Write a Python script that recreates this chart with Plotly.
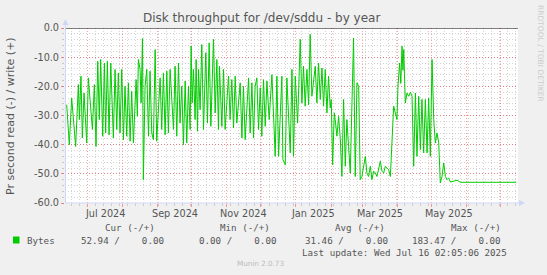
import plotly.graph_objects as go
import pandas as pd

# ---------------- data ----------------
START = "2024-06-11 02:05:06"
END = "2025-07-16 02:05:06"

# days since START, and read throughput plotted as negative (read (-))
day_offset = [
    1.5, 3.8, 5.9, 9.4, 11.8, 12.7, 14.1, 15.3, 16.8, 19.2, 20.6, 22.1, 24.2, 25.9, 27.4,
    28.9, 30.3, 31.5, 33.3, 34.8, 35.9, 37.4, 38.9, 40.4, 42.7, 44.2, 45.7, 47.1, 48.6,
    50.1, 51.6, 53.0, 54.5, 56.0, 57.5, 58.9, 60.4, 62.8, 63.9, 64.8, 66.3, 67.2, 68.4,
    69.2, 70.7, 72.2, 73.7, 75.1, 76.6, 78.1, 79.6, 81.0, 84.0, 85.4, 86.9, 88.4, 89.9,
    91.3, 92.8, 95.8, 97.2, 98.7, 100.2, 101.6, 103.1, 104.6, 106.1, 107.5, 109.0, 110.5,
    111.4, 112.3, 113.4, 114.9, 115.8, 117.0, 117.9, 119.3, 120.8, 122.3, 124.3, 125.8,
    127.3, 128.8, 131.1, 132.6, 134.1, 135.5, 136.4, 138.5, 140.0, 141.4, 144.4, 145.8,
    147.3, 148.8, 150.3, 151.7, 154.7, 156.2, 157.6, 159.1, 162.1, 163.5, 165.0, 166.5,
    167.9, 169.4, 170.9, 172.4, 173.8, 175.3, 176.8, 178.3, 180.3, 182.7, 185.6, 187.1,
    188.6, 191.5, 192.4, 194.5, 195.9, 198.9, 200.4, 201.8, 203.3, 205.4,
    207.7, 209.2, 210.6, 212.1, 213.6, 215.1, 216.5, 218.0, 221.0, 222.4, 223.9, 225.4,
    226.9, 228.3, 229.8, 231.3, 232.7, 234.2, 235.1, 236.3, 237.8, 238.6, 240.1, 241.6,
    243.1, 244.5, 246.0, 247.5, 248.9, 250.4, 251.9, 253.4, 254.8, 256.3, 257.8, 259.3,
    260.7, 262.2, 263.7, 265.2, 266.6, 268.1, 269.6, 271.0, 272.5, 274.0, 275.5, 276.9,
    278.4, 279.9, 281.4, 282.8, 284.3, 285.8, 287.3, 288.7, 290.2, 291.7, 293.1, 294.0,
    295.5, 296.5, 297.6, 298.4, 299.1, 300.5, 302.0, 303.5, 305.0, 306.4, 307.9, 309.4, 310.8, 312.3,
    313.8, 315.2, 316.7, 318.2, 319.7, 321.1, 322.6, 324.1, 325.6, 327.0, 328.5, 330.0,
    331.4, 332.9, 334.4, 335.9, 337.3, 338.8, 340.3, 346.2, 349.1, 398.3,
]
read_value = [
    -26.3, -40.0, -24.0, -40.6, -19.4, -31.4, -16.5, -37.7, -22.3, -39.4, -17.1, -25.7, -34.8, -19.4, -40.6,
    -11.4, -31.4, -10.8, -37.1, -12.0, -36.0, -11.4, -36.6, -12.0, -37.7, -14.2, -34.8, -15.4, -36.0,
    -14.2, -38.3, -20.0, -37.1, -18.8, -38.8, -21.7, -39.4, -17.7, -30.3, -10.8, -14.2, -25.7, -3.6,
    -52.0, -20.0, -14.2, -37.1, -14.8, -36.0, -38.3, -7.4, -38.8, -17.1, -34.8, -15.4, -36.6, -14.8,
    -36.0, -14.2, -34.8, -13.1, -37.1, -12.0, -32.6, -20.0, -40.0, -18.2, -39.4, -20.0, -34.8,
    -6.2, -25.7, -14.2, -31.4, -10.8, -35.4, -14.2, -28.0, -5.7, -34.8, -8.5, -32.6,
    -5.1, -33.7, -3.9, -29.1, -10.8, -34.8, -13.1, -33.7, -14.2, -34.8, -16.5, -31.4,
    -17.7, -34.3, -16.5, -32.6, -18.8, -37.7, -20.0, -38.3, -17.1, -36.0, -18.8, -37.7,
    -20.0, -17.1, -34.8, -20.5, -37.1, -17.7, -33.7, -18.2, -31.4, -16.0, -44.0, -16.5,
    -44.0, -16.5, -45.1, -46.9, -17.1, -42.8, -14.2, -44.0, -16.5, -32.6,
    -3.9, -25.7, -13.1, -26.8, -14.2, -26.3, -2.2, -23.4, -13.1, -25.7, -12.0, -24.5,
    -13.7, -26.8, -14.2, -29.1, -16.5, -27.4, -24.5, -46.9, -29.1, -31.4, -37.1, -30.3,
    -38.0, -50.9, -24.5, -47.4, -31.4, -40.6, -49.7, -25.7, -3.4, -50.9, -18.8, -20.0,
    -52.0, -50.9, -47.4, -44.0, -49.7, -50.9, -47.4, -52.0, -49.1, -49.7, -50.9, -48.6,
    -45.7, -49.1, -49.7, -47.4, -48.0, -48.6, -50.9, -40.6, -26.8, -29.1, -31.4, -20.0,
    -12.0, -19.0, -6.2, -14.5, -7.4, -25.7, -22.3, -23.4, -22.0, -23.4, -47.4, -22.3, -44.0, -23.4,
    -41.7, -24.5, -42.8, -24.5, -42.8, -24.0, -44.0, -10.8, -31.4, -39.4, -36.0, -39.4,
    -53.1, -50.9, -46.3, -50.9, -52.0, -51.4, -52.8, -52.2, -52.9, -52.9,
]

y_tick_values = [0, -10, -20, -30, -40, -50, -60]
y_tick_labels = ["0.0", "-10.0", "-20.0", "-30.0", "-40.0", "-50.0", "-60.0"]
month_labels = ["Jul 2024", "Sep 2024", "Nov 2024", "Jan 2025", "Mar 2025", "May 2025"]
month_label_dates = ["2024-07-16", "2024-09-16", "2024-11-16", "2025-01-16", "2025-03-16", "2025-05-16"]

series_name = "Bytes"
stat_headers = ["Cur (-/+)", "Min (-/+)", "Avg (-/+)", "Max (-/+)"]
stat_read = [52.94, 0.00, 31.46, 183.47]
stat_write = [0.00, 0.00, 0.00, 0.00]
last_update = "Last update: Wed Jul 16 02:05:06 2025"
title_text = "Disk throughput for /dev/sddu - by year"
y_title = "Pr second read (-) / write (+)"
side_text = "RRDTOOL / TOBI OETIKER"
footer_text = "Munin 2.0.73"

# ---------------- layout helpers ----------------
W, H = 547, 275
L, R, T, B = 65, 29, 28, 72
PW, PH = W - L - R, H - T - B


def fx(px):
    return (px - L) / PW


def fy(py):
    return (H - B - py) / PH


GREEN = "#00CC00"
TXT = "#555555"
AXIS = "#CFD6F8"
MAJOR = "rgba(255,0,0,0.38)"
MINOR = "rgba(175,175,175,0.55)"
DASH = "1px,2px"

x_dates = pd.Timestamp(START) + pd.to_timedelta(day_offset, unit="D")

fig = go.Figure()
fig.add_trace(go.Scatter(x=x_dates, y=read_value, mode="lines",
                         line=dict(color=GREEN, width=1), name=series_name,
                         hoverinfo="skip"))

fig.update_layout(
    width=W, height=H,
    margin=dict(l=L, r=R, t=T, b=B, pad=0),
    paper_bgcolor="#F0F0F0", plot_bgcolor="#FFFFFF",
    showlegend=False,
    font=dict(family="DejaVu Sans", color=TXT),
)

fig.update_xaxes(
    type="date", range=[START, END],
    tickmode="linear", tick0="2024-07-01", dtick="M1",
    showticklabels=False,
    showgrid=True, gridcolor=MAJOR, griddash=DASH, gridwidth=1,
    ticks="outside", ticklen=3, tickcolor=MAJOR,
    zeroline=False, showline=False,
    minor=dict(tickmode="linear", tick0="2024-06-10", dtick=7 * 86400000,
               showgrid=True, gridcolor=MINOR, griddash=DASH,
               ticks="outside", ticklen=2, tickcolor="#C8C8C8"),
)
fig.update_yaxes(
    range=[-60, 0],
    tickmode="array", tickvals=y_tick_values, ticktext=y_tick_labels,
    showgrid=True, gridcolor=MAJOR, griddash=DASH, gridwidth=1,
    ticks="outside", ticklen=3, tickcolor=MAJOR,
    tickfont=dict(family="DejaVu Sans", size=9.7, color=TXT),
    zeroline=False, showline=False,
    minor=dict(tickmode="linear", tick0=0, dtick=2,
               showgrid=True, gridcolor=MINOR, griddash=DASH,
               ticks="outside", ticklen=2, tickcolor="#C8C8C8"),
)

shapes = []
# black zero rule
shapes.append(dict(type="line", xref="paper", yref="y", x0=0, x1=1, y0=0, y1=0,
                   line=dict(color="#000000", width=1), layer="above"))
# axis lines with arrows
shapes.append(dict(type="line", xref="paper", yref="paper", x0=fx(65.5), x1=fx(520),
                   y0=fy(203), y1=fy(203), line=dict(color=AXIS, width=1), layer="above"))
shapes.append(dict(type="line", xref="paper", yref="paper", x0=fx(65.5), x1=fx(65.5),
                   y0=fy(203), y1=fy(24), line=dict(color=AXIS, width=1), layer="above"))
shapes.append(dict(type="path", xref="paper", yref="paper",
                   path=f"M {fx(62.5)} {fy(25)} L {fx(68.5)} {fy(25)} L {fx(65.5)} {fy(19)} Z",
                   fillcolor=AXIS, line=dict(width=0), layer="above"))
shapes.append(dict(type="path", xref="paper", yref="paper",
                   path=f"M {fx(519)} {fy(200)} L {fx(519)} {fy(206)} L {fx(525)} {fy(203)} Z",
                   fillcolor=AXIS, line=dict(width=0), layer="above"))
# legend colour box
shapes.append(dict(type="rect", xref="paper", yref="paper",
                   x0=fx(13), x1=fx(19.5), y0=fy(243.5), y1=fy(236.5),
                   fillcolor=GREEN, line=dict(width=0)))
fig.update_layout(shapes=shapes)

NB = "\u00a0"
ann = []


def text(px, py, s, size, color=TXT, family="DejaVu Sans", xanchor="center", angle=0):
    ann.append(dict(xref="paper", yref="paper", x=fx(px), y=fy(py), text=s.replace(" ", NB),
                    showarrow=False, xanchor=xanchor, yanchor="middle", textangle=angle,
                    font=dict(family=family, size=size, color=color)))


text(261.5, 18, title_text, 12)
text(10, 116, y_title, 11, angle=-90)
text(541, 53, side_text, 7.5, color="#CCCCCC", angle=90)

for lab, d in zip(month_labels, month_label_dates):
    ann.append(dict(xref="x", yref="paper", x=d, y=fy(213), text=lab.replace(" ", NB),
                    showarrow=False, xanchor="center", yanchor="middle",
                    font=dict(family="DejaVu Sans", size=9.7, color=TXT)))

MONO = "DejaVu Sans Mono"
header_right = [157, 272, 387, 503]
value_right = [166, 278, 390, 503]
for hdr, xr in zip(stat_headers, header_right):
    text(xr, 227, hdr, 9.2, family=MONO, xanchor="right")
text(25, 240, series_name, 9.2, family=MONO, xanchor="left")
for r_, w_, xr in zip(stat_read, stat_write, value_right):
    text(xr, 240, f"{r_:.2f} /{w_:8.2f}", 9.2, family=MONO, xanchor="right")
text(509, 252, last_update, 9.2, family=MONO, xanchor="right")
text(260.5, 263, footer_text, 7.2, color="#BBBBBB")

fig.update_layout(annotations=ann)
fig.write_html("out.html")
